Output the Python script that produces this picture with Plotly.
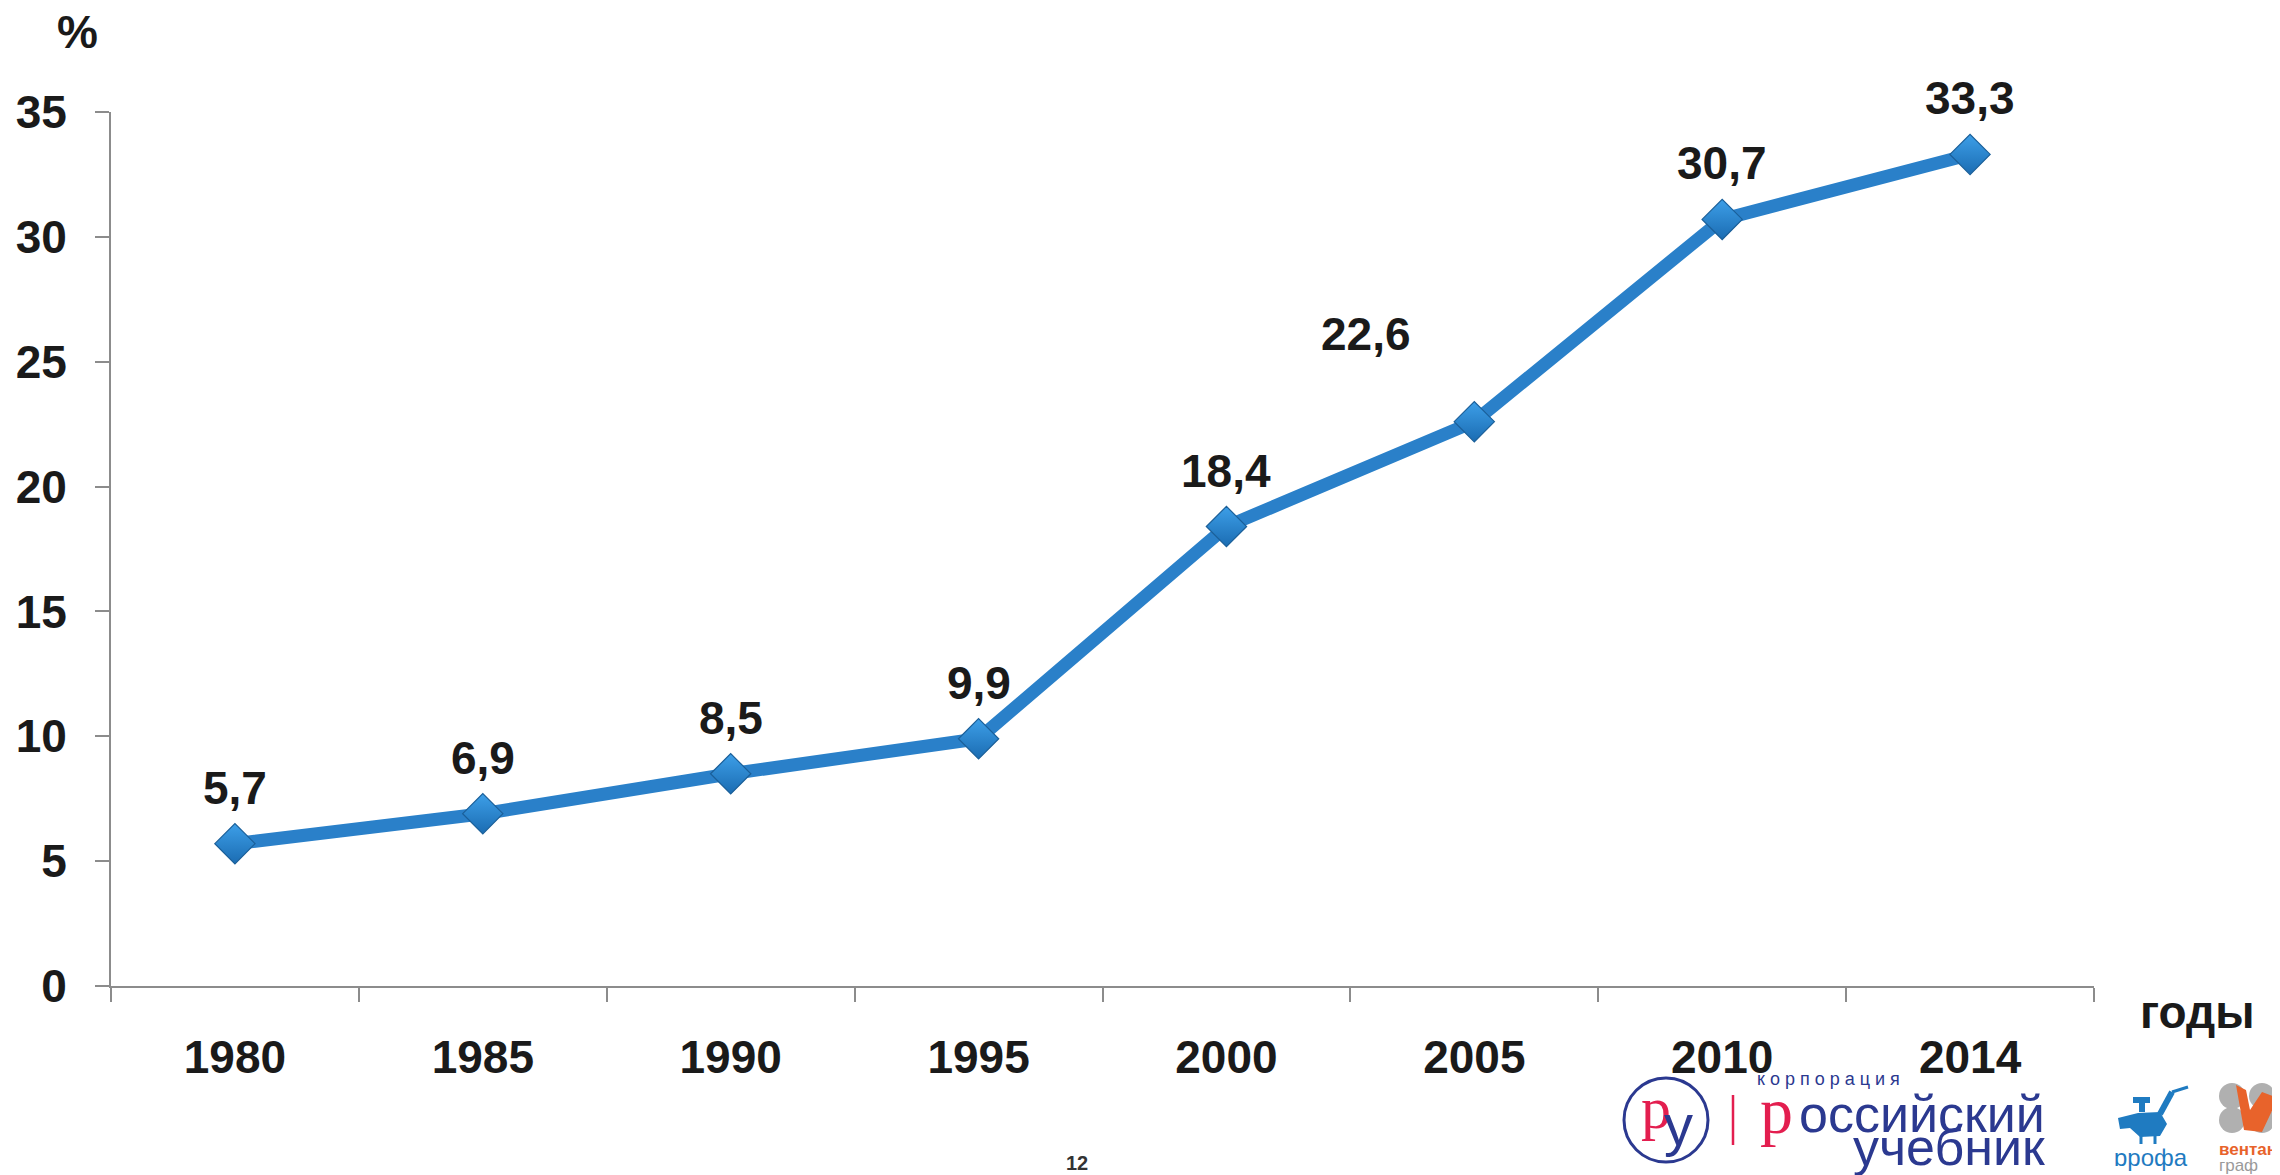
import plotly.graph_objects as go

# ---- data ----
years = ["1980", "1985", "1990", "1995", "2000", "2005", "2010", "2014"]
values = [5.7, 6.9, 8.5, 9.9, 18.4, 22.6, 30.7, 33.3]
y_tick_vals = [0, 5, 10, 15, 20, 25, 30, 35]
y_title = "%"
x_title = "годы"
page_number = "12"

# page is rendered with the browser's default 8px body margin
OFF = 8
W, H = 2280 - OFF, 1175 - OFF
L, R, T, B = 111 - OFF, 186, 112 - OFF, 189
PW, PH = W - L - R, H - T - B


def px(x):  # page pixel -> paper
    return (x - OFF - L) / PW


def py(y):
    return (OFF + H - B - y) / PH


FONT = "Liberation Sans, Arial, sans-serif"
TXT = "#1a1a1a"
AX = "#8c8c8c"

xpos = list(range(len(years)))

fig = go.Figure()
fig.add_trace(go.Scatter(
    x=xpos, y=values, mode="lines+markers",
    line=dict(color="#2a80c9", width=13),
    marker=dict(symbol="diamond", size=31, color="#3d9fe8",
                gradient=dict(type="vertical", color="#1b6cb2"),
                line=dict(color="#1a5f99", width=1.2)),
    hoverinfo="skip", showlegend=False,
))

# data labels
for i, (yr, v) in enumerate(zip(years, values)):
    xs, ys = 0, 56
    if yr == "2005":
        xs, ys = -108, 88
    fig.add_annotation(x=xpos[i], y=v, text=f"{v:.1f}".replace(".", ","),
                       showarrow=False, xshift=xs, yshift=ys,
                       font=dict(family=FONT, size=46, color=TXT, weight="bold"))

# axis titles
fig.add_annotation(xref="paper", yref="paper", x=px(77), y=py(32), text=y_title,
                   xanchor="center", yanchor="middle",
                   showarrow=False, font=dict(family=FONT, size=46, color=TXT, weight="bold"))
fig.add_annotation(xref="paper", yref="paper", x=px(2197), y=py(1012), text=x_title,
                   xanchor="center", yanchor="middle",
                   showarrow=False, font=dict(family=FONT, size=46, color=TXT, weight="bold"))
fig.add_annotation(xref="paper", yref="paper", x=px(1077), y=py(1163), text=page_number,
                   xanchor="center", yanchor="middle",
                   showarrow=False, font=dict(family=FONT, size=20, color="#333333", weight="bold"))

# ---- logo: корпорация российский учебник ----
BLUE = "#2b3990"
RED = "#e31e4f"


def ann(x, y, text, size, color, family="Liberation Sans", xanchor="center", weight="normal"):
    fig.add_annotation(xref="paper", yref="paper", x=px(x), y=py(y), text=text,
                       xanchor=xanchor, yanchor="middle", showarrow=False,
                       font=dict(family=family, size=size, color=color, weight=weight))


fig.add_shape(type="circle", xref="paper", yref="paper",
              x0=px(1624), x1=px(1708), y0=py(1162), y1=py(1078),
              line=dict(color=BLUE, width=3), fillcolor="white")
ann(1656, 1108, "р", 60, RED, family="Liberation Serif")
ann(1678, 1124, "у", 58, BLUE)
fig.add_shape(type="line", xref="paper", yref="paper",
              x0=px(1733), x1=px(1733), y0=py(1095), y1=py(1145),
              line=dict(color=RED, width=2.5))
ann(1755, 1079, "к о р п о р а ц и я", 18, BLUE, xanchor="left")
ann(1795, 1110, "р", 66, RED, family="Liberation Serif", xanchor="right")
ann(2047, 1114, "оссийский", 52, BLUE, xanchor="right")
ann(2047, 1147, "учебник", 52, BLUE, xanchor="right")

# ---- logo: дрофа ----
DB = "#1f7bc1"
fig.add_shape(type="path", xref="paper", yref="paper",
              path="M %f %f L %f %f L %f %f L %f %f L %f %f L %f %f L %f %f L %f %f Z" % (
                  px(2118), py(1118), px(2138), py(1113), px(2160), py(1112), px(2167), py(1124),
                  px(2160), py(1136), px(2140), py(1137), px(2130), py(1128), px(2120), py(1129)),
              fillcolor=DB, line=dict(width=0))
fig.add_shape(type="line", xref="paper", yref="paper", x0=px(2160), x1=px(2172),
              y0=py(1114), y1=py(1092), line=dict(color=DB, width=6))
fig.add_shape(type="line", xref="paper", yref="paper", x0=px(2172), x1=px(2188),
              y0=py(1092), y1=py(1087), line=dict(color=DB, width=3))
fig.add_shape(type="line", xref="paper", yref="paper", x0=px(2133), x1=px(2150),
              y0=py(1100), y1=py(1100), line=dict(color=DB, width=6))
fig.add_shape(type="line", xref="paper", yref="paper", x0=px(2142), x1=px(2142),
              y0=py(1100), y1=py(1112), line=dict(color=DB, width=6))
for lx in (2141, 2155):
    fig.add_shape(type="line", xref="paper", yref="paper", x0=px(lx), x1=px(lx),
                  y0=py(1136), y1=py(1144), line=dict(color=DB, width=3))
ann(2151, 1157, "ɒрофа", 24, DB)

# ---- logo: вентана граф ----
for cx, cy in ((2232, 1096), (2232, 1120), (2262, 1096), (2262, 1120)):
    fig.add_shape(type="circle", xref="paper", yref="paper",
                  x0=px(cx - 13), x1=px(cx + 13), y0=py(cy + 13), y1=py(cy - 13),
                  fillcolor="#b0b0b0", line=dict(width=0))
fig.add_shape(type="path", xref="paper", yref="paper",
              path="M %f %f L %f %f L %f %f L %f %f L %f %f L %f %f L %f %f Z" % (
                  px(2236), py(1085), px(2246), py(1090), px(2250), py(1110), px(2262), py(1092),
                  px(2278), py(1098), px(2262), py(1132), px(2244), py(1130)),
              fillcolor="#e8632b", line=dict(width=0))
ann(2217, 1149, "вентана", 17, "#e8632b", xanchor="left", weight="bold")
ann(2217, 1165, "граф", 17, "#9a9a9a", xanchor="left")

fig.update_layout(
    width=W, height=H,
    margin=dict(l=L, r=R, t=T, b=B, autoexpand=False),
    paper_bgcolor="white", plot_bgcolor="white",
    showlegend=False,
    font=dict(family=FONT, color=TXT),
)
boundaries = [i - 0.5 for i in range(len(years) + 1)]
fig.update_xaxes(
    range=[-0.5, len(years) - 0.5], tickmode="array", tickvals=xpos, ticktext=years,
    ticks="", showline=True, linecolor=AX, linewidth=2, showgrid=False, zeroline=False,
    automargin=False,
    tickfont=dict(family=FONT, size=46, color=TXT, weight="bold"), ticklabelstandoff=30,
    minor=dict(tickmode="array", tickvals=boundaries, ticks="outside", ticklen=14,
               tickwidth=2, tickcolor=AX, showgrid=False),
)
fig.update_yaxes(
    range=[0, 35], tickmode="array", tickvals=y_tick_vals,
    ticks="outside", ticklen=14, tickwidth=2, tickcolor=AX,
    showline=True, linecolor=AX, linewidth=2, showgrid=False, zeroline=False,
    automargin=False,
    tickfont=dict(family=FONT, size=46, color=TXT, weight="bold"), ticklabelstandoff=19,
)

fig.write_html("out.html")
